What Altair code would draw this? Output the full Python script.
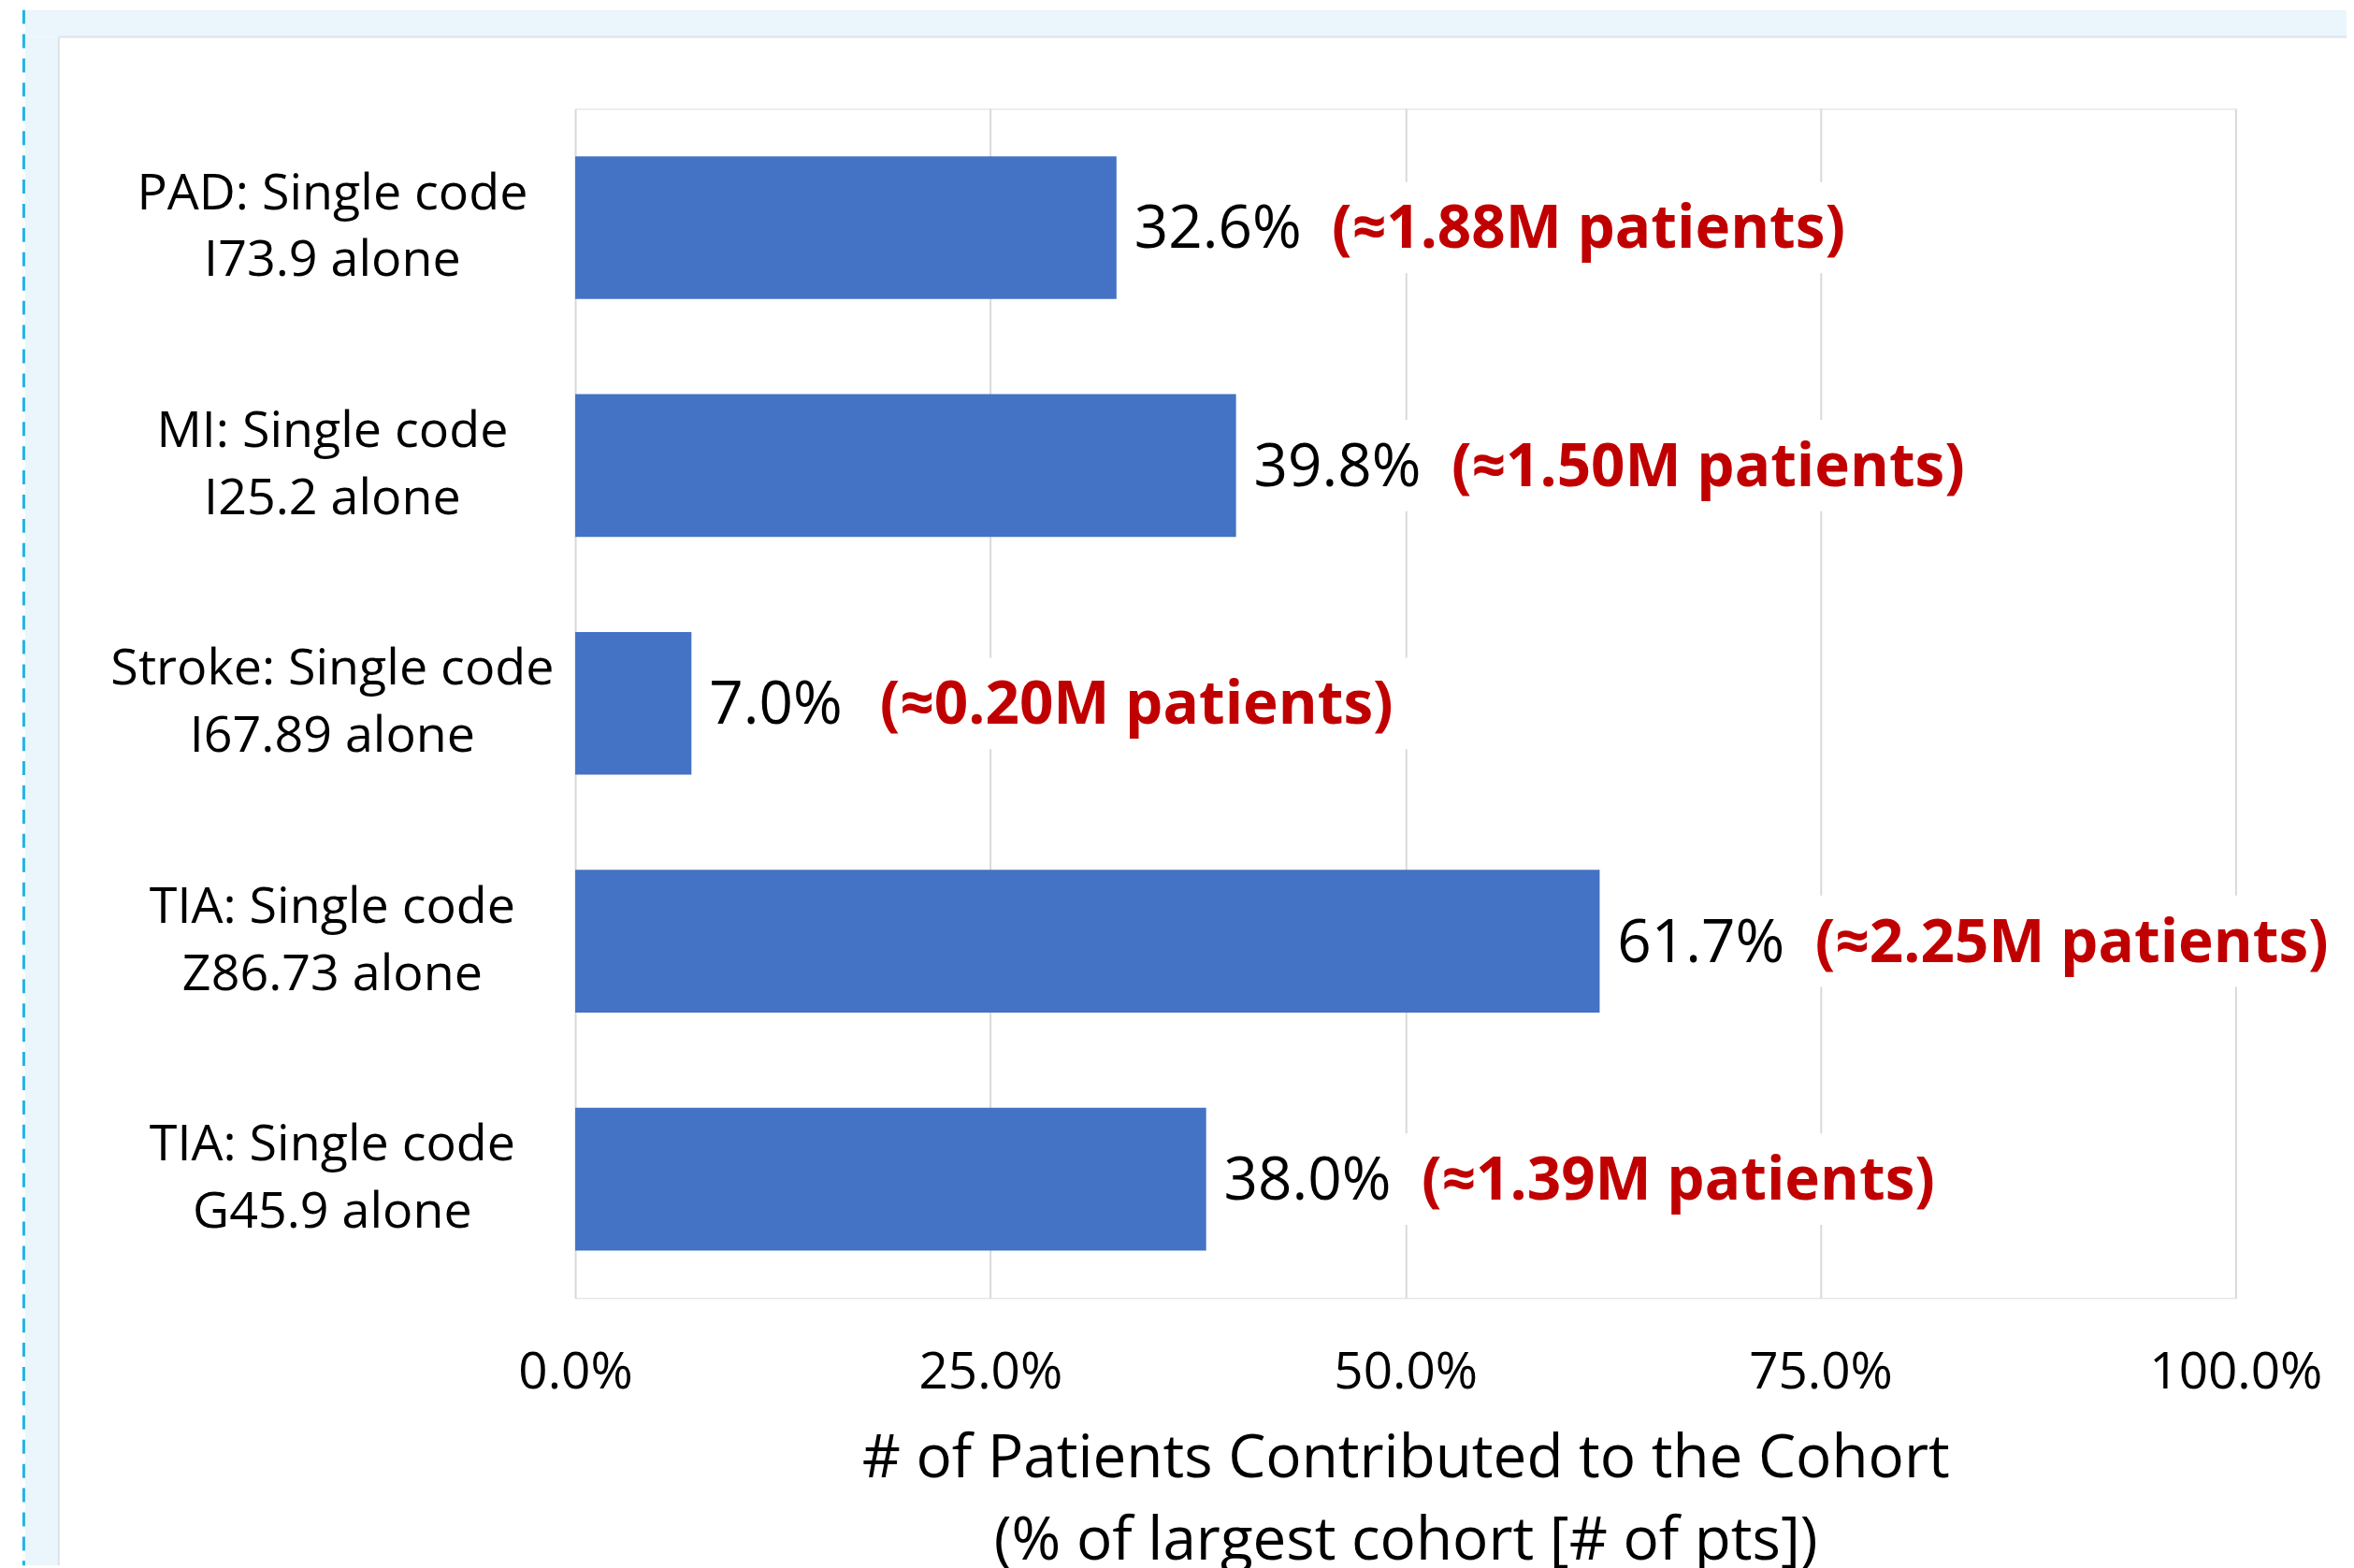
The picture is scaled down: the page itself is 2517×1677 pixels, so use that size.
import altair as alt
import pandas as pd

# ---- data ----
categories = [
    "PAD: Single code|I73.9 alone",
    "MI: Single code|I25.2 alone",
    "Stroke: Single code|I67.89 alone",
    "TIA: Single code|Z86.73 alone",
    "TIA: Single code|G45.9 alone",
]
values = [32.6, 39.8, 7.0, 61.7, 38.0]          # % of largest cohort
patients_m = ["1.88", "1.50", "0.20", "2.25", "1.39"]  # millions of patients
x_ticks = [0, 25, 50, 75, 100]
x_title = ["# of Patients Contributed to the Cohort", "(% of largest cohort [# of pts])"]

# ---- layout / style ----
W, H = 1781, 1276
PXU = W / 100.0
FONT = "Open Sans"
BAR = "#4472C4"
RED = "#C00000"
LIGHT = "#EAF5FC"

df = pd.DataFrame({"cat": categories, "value": values, "pts": patients_m})
df["pct"] = [f"{v:.1f}%" for v in values]
df["red"] = [f"(\u2248{p}M patients)" for p in patients_m]

x_scale = alt.Scale(domain=[0, 100], nice=False, zero=True)
x_axis = alt.Axis(
    values=x_ticks,
    labelExpr="format(datum.value, '.1f') + '%'",
    title=x_title,
    titleFontSize=64, titleLineHeight=88, titleFontWeight="normal",
    titleColor="black", titlePadding=33, titleFont=FONT,
    labelFontSize=55, labelPadding=54, labelColor="black", labelFont=FONT,
    labelFlush=False, labelLimit=600, labelOverlap=False,
    ticks=False, domain=False,
    grid=True, gridColor="#D9D9D9", gridWidth=2,
)
y_enc = alt.Y(
    "cat:N", sort=categories,
    scale=alt.Scale(paddingInner=0.4, paddingOuter=0.2),
    axis=alt.Axis(
        title=None, labelExpr="split(datum.label, '|')",
        labelAlign="center", labelBaseline="middle", labelPadding=261,
        labelOffset=-36,
        ticks=False, tickSize=0, domain=False, grid=False,
        labelFontSize=54, labelLineHeight=72, labelColor="black",
        labelFont=FONT, labelLimit=1000,
    ),
)

base = alt.Chart(df)

# decorative page frame (outside the plot area)
dummy = alt.Chart(pd.DataFrame({"k": [0]}))
top_strip = dummy.mark_rect(color=LIGHT).encode(
    x=alt.value(-590), x2=alt.value(1900), y=alt.value(-106), y2=alt.value(-77))
left_strip = dummy.mark_rect(color=LIGHT).encode(
    x=alt.value(-590), x2=alt.value(-554), y=alt.value(-77), y2=alt.value(1563))
dash = dummy.mark_rule(color="#22B4E4", strokeWidth=3, strokeDash=[15, 11]).encode(
    x=alt.value(-591.5), y=alt.value(-106), y2=alt.value(1563))
edge_h = dummy.mark_rule(color="#DDE3EA", strokeWidth=2).encode(
    x=alt.value(-554), x2=alt.value(1900), y=alt.value(-77))
edge_v = dummy.mark_rule(color="#DDE3EA", strokeWidth=2).encode(
    x=alt.value(-554), y=alt.value(-77), y2=alt.value(1563))

# white label boxes (hide gridlines behind the labels)
boxes = base.transform_calculate(
    bx0=f"datum.value + 8 / {PXU}",
    bx1=f"datum.value + (86 + 29 * length(datum.pct) + 570) / {PXU}",
).mark_bar(color="white", size=98).encode(
    x=alt.X("bx0:Q", scale=x_scale, axis=x_axis),
    x2="bx1:Q",
    y=y_enc,
)

bars = base.mark_bar(color=BAR).encode(
    x=alt.X("value:Q", scale=x_scale, axis=x_axis),
    y=y_enc,
)

pct_text = base.mark_text(
    align="left", baseline="middle", dx=19, dy=3,
    font=FONT, fontSize=64, color="black",
).encode(
    x=alt.X("value:Q", scale=x_scale, axis=x_axis),
    y=y_enc,
    text="pct:N",
)

red_text = base.transform_calculate(
    rx=f"datum.value + (86 + 29 * length(datum.pct)) / {PXU}"
).mark_text(
    align="left", baseline="middle", dy=3,
    font=FONT, fontSize=64, fontWeight="bold", color=RED,
).encode(
    x=alt.X("rx:Q", scale=x_scale, axis=x_axis),
    y=y_enc,
    text="red:N",
)

chart = alt.layer(
    top_strip, left_strip, dash, edge_h, edge_v, boxes, bars, pct_text, red_text
).properties(
    width=W, height=H,
    autosize=alt.AutoSizeParams(type="none"),
    padding={"left": 609, "top": 106, "right": 119, "bottom": 287},
    background="white",
).configure_view(stroke=None).configure(font=FONT)

chart.save("out.html", embed_options={"renderer": "svg", "actions": False})
